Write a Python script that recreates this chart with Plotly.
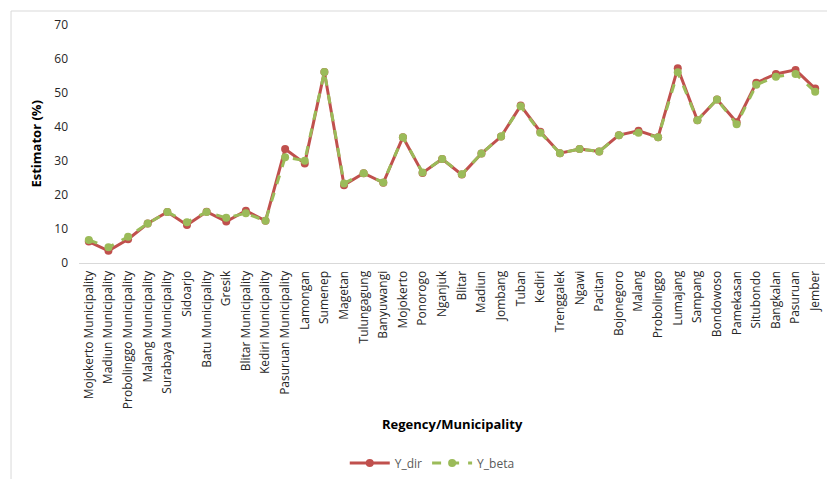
import plotly.graph_objects as go

regions = ["Mojokerto Municipality", "Madiun Municipality", "Probolinggo Municipality",
           "Malang Municipality", "Surabaya Municipality", "Sidoarjo", "Batu Municipality",
           "Gresik", "Blitar Municipality", "Kediri Municipality", "Pasuruan Municipality",
           "Lamongan", "Sumenep", "Magetan", "Tulungagung", "Banyuwangi", "Mojokerto",
           "Ponorogo", "Nganjuk", "Blitar", "Madiun", "Jombang", "Tuban", "Kediri",
           "Trenggalek", "Ngawi", "Pacitan", "Bojonegoro", "Malang", "Probolinggo",
           "Lumajang", "Sampang", "Bondowoso", "Pamekasan", "Situbondo", "Bangkalan",
           "Pasuruan", "Jember"]

y_dir = [6.3, 3.6, 7.0, 11.6, 15.0, 11.2, 15.1, 12.2, 15.4, 12.4, 33.5, 29.3, 56.2,
         22.9, 26.4, 23.6, 37.0, 26.5, 30.6, 26.0, 32.2, 37.2, 46.3, 38.6, 32.3, 33.5,
         32.8, 37.6, 38.9, 37.0, 57.3, 42.0, 48.1, 41.4, 53.0, 55.6, 56.8, 51.3]

y_beta = [6.8, 4.6, 7.7, 11.6, 15.0, 12.0, 15.0, 13.3, 14.6, 12.4, 31.1, 30.1, 56.2,
          23.4, 26.4, 23.7, 37.0, 26.6, 30.6, 26.1, 32.2, 37.2, 46.1, 38.3, 32.3, 33.5,
          32.8, 37.6, 38.3, 37.0, 56.1, 42.0, 48.1, 40.8, 52.4, 54.8, 55.6, 50.4]

RED = "#C0504D"
GREEN = "#9BBB59"
FONT = "Open Sans"

fig = go.Figure()
fig.add_trace(go.Scatter(x=regions, y=y_dir, name="Y_dir", mode="lines+markers",
                         line=dict(color=RED, width=3),
                         marker=dict(color=RED, size=8)))
fig.add_trace(go.Scatter(x=regions, y=y_beta, name="Y_beta", mode="lines+markers",
                         line=dict(color=GREEN, width=3, dash="dash"),
                         marker=dict(color=GREEN, size=8)))

L, R, T, B = 78.5, 2, 25, 216
W = 827 - L - R
H = 479 - T - B

def px(x):
    return (x - L) / W

def py(y):
    return (479 - B - y) / H

fig.update_layout(
    width=827, height=479,
    margin=dict(l=L, r=R, t=T, b=B, autoexpand=False),
    paper_bgcolor="white", plot_bgcolor="white",
    font=dict(family=FONT, size=12, color="#262626"),
    showlegend=True,
    legend=dict(orientation="h", x=px(432), y=py(463), xanchor="center", yanchor="middle",
                font=dict(family=FONT, size=12, color="#595959"), itemwidth=40,
                tracegroupgap=0, bgcolor="rgba(0,0,0,0)"),
    xaxis=dict(type="category", tickangle=-90, showgrid=False, showline=True,
               linecolor="#D9D9D9", linewidth=1, ticks="", zeroline=False,
               tickfont=dict(family=FONT, size=12, color="#262626"),
               ticklabelstandoff=2, range=[-0.5, len(regions) - 0.5]),
    yaxis=dict(range=[0, 70], dtick=10, showgrid=False, showline=False, zeroline=False,
               ticks="", tickfont=dict(family=FONT, size=12, color="#262626"),
               ticklabelstandoff=10),
    annotations=[
        dict(text="<b>Estimator (%)</b>", xref="paper", yref="paper", x=px(35), y=py(144),
             showarrow=False, textangle=-90, xanchor="center", yanchor="middle",
             font=dict(family=FONT, size=13, color="#000000")),
        dict(text="<b>Regency/Municipality</b>", xref="paper", yref="paper", x=px(452), y=py(424),
             showarrow=False, xanchor="center", yanchor="middle",
             font=dict(family=FONT, size=13, color="#000000")),
    ],
    shapes=[dict(type="rect", xref="paper", yref="paper", x0=px(10.5), x1=px(840),
                 y0=py(500), y1=py(11), line=dict(color="#D9D9D9", width=1),
                 fillcolor="rgba(0,0,0,0)", layer="below")],
)

fig.write_html("out.html")
